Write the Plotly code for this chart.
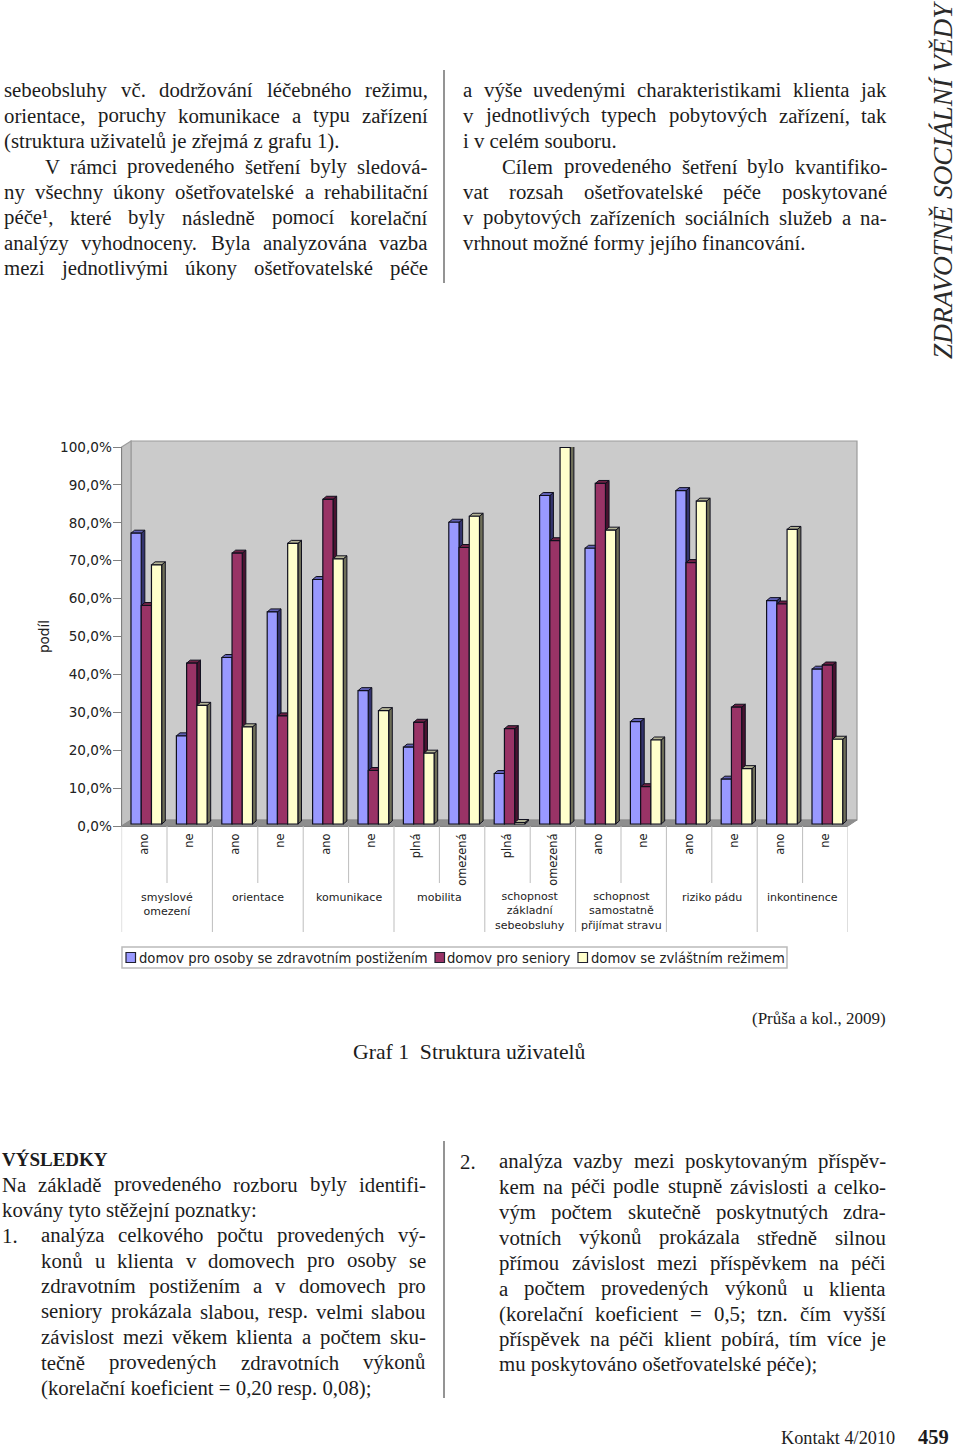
import plotly.graph_objects as go

# ---------- chart data ----------
sub_labels = ["ano", "ne", "ano", "ne", "ano", "ne", "plná", "omezená", "plná", "omezená",
              "ano", "ne", "ano", "ne", "ano", "ne"]
group_labels = ["smyslové<br>omezení", "orientace", "komunikace", "mobilita",
                "schopnost<br>základní<br>sebeobsluhy", "schopnost<br>samostatně<br>přijímat stravu",
                "riziko pádu", "inkontinence"]
series_names = ["domov pro osoby se zdravotním postižením", "domov pro seniory", "domov se zvláštním režimem"]
dozp = [77.2, 23.4, 44.2, 56.3, 64.9, 35.4, 20.4, 80.1, 13.4, 87.2, 73.2, 27.2, 88.5, 11.9, 59.3, 41.1]
seniors = [58.0, 42.7, 71.9, 28.7, 86.2, 14.2, 27.0, 73.4, 25.3, 75.2, 90.4, 9.9, 69.4, 31.0, 58.4, 42.2]
special = [68.8, 31.5, 25.8, 74.5, 70.4, 30.1, 18.8, 81.7, 0.4, 100, 78.0, 22.3, 85.7, 14.7, 78.2, 22.5]
y_ticks = [0, 10, 20, 30, 40, 50, 60, 70, 80, 90, 100]
y_tick_text = ["0,0%", "10,0%", "20,0%", "30,0%", "40,0%", "50,0%", "60,0%", "70,0%", "80,0%", "90,0%", "100,0%"]

# ---------- page text ----------
col_tl = ["sebeobsluhy vč. dodržování léčebného režimu,", "orientace, poruchy komunikace a typu zařízení",
          "(struktura uživatelů je zřejmá z grafu 1).", "V rámci provedeného šetření byly sledová-",
          "ny všechny úkony ošetřovatelské a rehabilitační", "péče¹, které byly následně pomocí korelační",
          "analýzy vyhodnoceny. Byla analyzována vazba", "mezi jednotlivými úkony ošetřovatelské péče"]
col_tr = ["a výše uvedenými charakteristikami klienta jak", "v jednotlivých typech pobytových zařízení, tak",
          "i v celém souboru.", "Cílem provedeného šetření bylo kvantifiko-",
          "vat rozsah ošetřovatelské péče poskytované", "v pobytových zařízeních sociálních služeb a na-",
          "vrhnout možné formy jejího financování."]
col_bl = ["Na základě provedeného rozboru byly identifi-", "kovány tyto stěžejní poznatky:"]
col_bl2 = ["analýza celkového počtu provedených vý-", "konů u klienta v domovech pro osoby se",
           "zdravotním postižením a v domovech pro", "seniory prokázala slabou, resp. velmi slabou",
           "závislost mezi věkem klienta a počtem sku-", "tečně provedených zdravotních výkonů",
           "(korelační koeficient = 0,20 resp. 0,08);"]
col_br = ["analýza vazby mezi poskytovaným příspěv-", "kem na péči podle stupně závislosti a celko-",
          "vým počtem skutečně poskytnutých zdra-", "votních výkonů prokázala středně silnou",
          "přímou závislost mezi příspěvkem na péči", "a počtem provedených výkonů u klienta",
          "(korelační koeficient = 0,5; tzn. čím vyšší", "příspěvek na péči klient pobírá, tím více je",
          "mu poskytováno ošetřovatelské péče);"]

W, H = 960, 1447
TXT = "#1c1c1c"
CH = "#222222"
SERIF = "Liberation Serif"
SANS = "DejaVu Sans"
BODY = 20.8

def px(x): return x / W
def py(y): return 1 - y / H

# y scale: 0 at 826 px, 100 at 447 px; x: 16 categories from 121.6 to 848
X0, X1, Y0, Y100 = 121.6, 848.0, 826.0, 447.0
UX = (X1 - X0) / 16
BAR_BASE, BAR_TOP = 824.0, 447.3     # bars stand on the receding floor, on a slightly shorter scale
UBAR = (BAR_BASE - BAR_TOP) / 100
SHIFT_X = 2.05 / UX      # bars sit slightly right of the category centre
BAR_Y_RANGE = [-(Y0 - BAR_BASE) / UBAR, 100 + (BAR_TOP - Y100) / UBAR]
DX = 3.6 / UX            # 3-D depth of a bar
DY = 3.0 / UBAR
GROUP = 0.676
SLOT = GROUP / 3

FRONT = ["#9999FF", "#993366", "#FFFFCC"]
SIDE = ["#33336E", "#4A1230", "#6E6E58"]
TOP = ["#6060B4", "#6E2044", "#B4B496"]
EDGE = "#10101E"

fig = go.Figure()
all_series = [dozp, seniors, special]
n = len(sub_labels)

# main axes carry the visible ticks
fig.add_trace(go.Scatter(x=[0, n], y=[0, 100], mode="none", showlegend=False, hoverinfo="skip"))

# side and top faces, derived from the same values as the bars
for c in range(n):
    for s, vals in enumerate(all_series):
        v = vals[c]
        l = c + 0.5 - GROUP / 2 + s * SLOT
        r = l + SLOT
        fig.add_trace(go.Scatter(x=[r, r + DX, r + DX, r, r], y=[v, v + DY, DY, 0, v], mode="lines",
                                 fill="toself", fillcolor=SIDE[s], line=dict(color=EDGE, width=1), cliponaxis=False,
                                 xaxis="x2", yaxis="y2", showlegend=False, hoverinfo="skip"))
        fig.add_trace(go.Scatter(x=[l, l + DX, r + DX, r, l], y=[v, v + DY, v + DY, v, v], mode="lines",
                                 fill="toself", fillcolor=TOP[s], line=dict(color=EDGE, width=1), cliponaxis=False,
                                 xaxis="x2", yaxis="y2", showlegend=False, hoverinfo="skip"))

# front faces
centers = [c + 0.5 for c in range(n)]
for s, vals in enumerate(all_series):
    fig.add_trace(go.Bar(x=centers, y=vals, name=series_names[s], cliponaxis=False,
                         marker=dict(color=FRONT[s], line=dict(color=EDGE, width=1.2)),
                         xaxis="x3", yaxis="y3", showlegend=False))

shapes = []
def poly(pts, fill, line="#8a8a8a", lw=1, layer="below"):
    d = "M " + " L ".join(f"{px(a):.5f},{py(b):.5f}" for a, b in pts) + " Z"
    shapes.append(dict(type="path", path=d, xref="paper", yref="paper", fillcolor=fill,
                       line=dict(color=line, width=lw), layer=layer))

# chart walls and floor
poly([(131, 441), (857, 441), (857, 820), (131, 820)], "#CBCBCB", line="#9C9C9C", lw=1.2)
poly([(121.6, 447), (131, 441), (131, 820), (121.6, 826)], "#C2C2C2", line="#9C9C9C", lw=1.2)
poly([(121.6, 826), (131, 820), (857, 820), (848, 826)], "#8E8E8E")

# category separators
for i in range(n + 1):
    bottom = 932 if i % 2 == 0 else 883
    shapes.append(dict(type="line", xref="x", yref="paper", x0=i, x1=i, y0=py(826), y1=py(bottom),
                       line=dict(color="#BDBDBD", width=1)))

# column rules
for y_a, y_b in [(70, 283), (1141, 1398)]:
    shapes.append(dict(type="line", xref="paper", yref="paper", x0=px(444), x1=px(444), y0=py(y_a), y1=py(y_b),
                       line=dict(color="#707070", width=1.5)))

# legend frame and swatches
poly([(122, 947), (787, 947), (787, 968), (122, 968)], "#FFFFFF", line="#BBBBBB", lw=1.5, layer="above")
legend_sw = [126, 435, 578]
legend_tx = [139, 447, 591]
for s in range(3):
    a = legend_sw[s]
    poly([(a, 952.5), (a + 9.5, 952.5), (a + 9.5, 962.5), (a, 962.5)], FRONT[s], line="#202030", lw=1.2, layer="above")

annotations = []
def text(x, y, s, size, font=SERIF, color=TXT, anchor="left", angle=0, bold=False, italic=False, xref="paper"):
    if bold:
        s = f"<b>{s}</b>"
    if italic:
        s = f"<i>{s}</i>"
    annotations.append(dict(x=px(x) if xref == "paper" else x, y=py(y), xref=xref, yref="paper", text=s, showarrow=False,
                            xanchor=anchor, yanchor="middle", textangle=angle, borderpad=0, borderwidth=0,
                            font=dict(family=font, size=size, color=color), align="center"))

for s in range(3):
    text(legend_tx[s], 958, series_names[s], 13.2, font=SANS, color=CH)

for g, lab in enumerate(group_labels):
    nl = lab.count("<br>") + 1
    text(g * 2 + 1, 897.5 + (nl - 1) * 6.8, lab, 11, font=SANS, color=CH, anchor="center", xref="x")

# Times-metric widths, used to justify lines
_w = {}
for chars, val in [("aceěéázžčc", .444), ("bdghnopquvxyýůúňďk0123456789", .5), ("frř", .333), ("ijlíť", .278),
                   ("m", .778), ("sš", .389), ("w", .722),
                   (".,;", .25), (":", .278), ("()-", .333), ("=", .564), ("¹", .3), ("t", .278),
                   ("ACDGHKNOUVXYÝČĎ", .722), ("BRE", .64), ("FPSŠ", .556), ("LTZ", .611), ("I", .333), ("J", .389), ("M", .889), ("W", .944)]:
    for ch in chars:
        _w[ch] = val

def width(w, size):
    return sum(_w.get(ch, .5) for ch in w) * size

def line(x0, x1, baseline, s, size=BODY, justify=True):
    yc = baseline - 0.29 * size
    if not justify:
        text(x0, yc, s, size)
        return
    words = s.split(" ")
    total = sum(width(w, size) for w in words)
    gap = (x1 - x0 - total) / (len(words) - 1)
    x = x0
    for i, w in enumerate(words):
        if i == len(words) - 1:
            text(x1, yc, w, size, anchor="right")
        else:
            text(x, yc, w, size)
        x += width(w, size) + gap

def block(x0, x1, base, lines, last_free=(), indent=None, dy=25.43):
    indent = indent or {}
    for i, s in enumerate(lines):
        line(x0 + indent.get(i, 0), x1, base + i * dy, s, justify=i not in last_free)

block(4, 428, 96, col_tl, last_free={2}, indent={3: 41})
block(463, 887, 96, col_tr, last_free={2, 6}, indent={3: 39})
text(2, 1159, "VÝSLEDKY", 19, bold=True)
block(2, 426, 1190.5, col_bl, last_free={1})
text(2, 1235, "1.", BODY)
block(41, 426, 1241, col_bl2, last_free={6})
text(460, 1161, "2.", BODY)
block(499, 886, 1167, col_br, last_free={8})

text(469.5, 1052, "Graf 1&nbsp;&nbsp;Struktura uživatelů", 21.7, anchor="center")
text(886, 1018, "(Průša a kol., 2009)", 17, anchor="right")
text(895, 1438, "Kontakt 4/2010", 18.3, anchor="right")
text(949, 1437, "459", 20.5, anchor="right", bold=True)
text(943, 180, "ZDRAVOTNĚ SOCIÁLNÍ VĚDY", 27.4, anchor="center", angle=-90, italic=True, color="#2a2a2a")

hidden = dict(visible=False, fixedrange=True, automargin=False)
fig.update_layout(
    width=W, height=H, autosize=False, margin=dict(l=0, r=0, t=0, b=0, autoexpand=False),
    paper_bgcolor="white", plot_bgcolor="rgba(0,0,0,0)", showlegend=False,
    barmode="group", bargap=1 - GROUP, bargroupgap=0,
    xaxis=dict(domain=[px(X0), px(X1)], range=[0, n], tickmode="array", tickvals=centers, ticktext=sub_labels,
               tickangle=-90, ticks="", showgrid=False, zeroline=False, showline=True, linecolor="#808080", linewidth=1,
               tickfont=dict(family=SANS, size=11.4, color=CH), fixedrange=True, automargin=False, ticklabelstandoff=2),
    yaxis=dict(domain=[py(Y0), py(Y100)], range=[0, 100], tickmode="array", tickvals=y_ticks, ticktext=y_tick_text,
               ticks="outside", ticklen=8, tickcolor="#808080", tickwidth=1, showgrid=False, zeroline=False,
               showline=True, linecolor="#808080", linewidth=1, tickfont=dict(family=SANS, size=13.6, color=CH),
               title=dict(text="podíl", font=dict(family=SANS, size=13.6, color=CH), standoff=7), fixedrange=True,
               automargin=False, ticklabelstandoff=-2),
    xaxis2=dict(overlaying="x", range=[-SHIFT_X, n - SHIFT_X], **hidden),
    yaxis2=dict(overlaying="y", range=BAR_Y_RANGE, **hidden),
    xaxis3=dict(overlaying="x", range=[-SHIFT_X, n - SHIFT_X], **hidden),
    yaxis3=dict(overlaying="y", range=BAR_Y_RANGE, **hidden),
    shapes=shapes, annotations=annotations,
)
place = ("document.documentElement.style.margin='0';document.body.style.margin='0';"
         "var g=document.querySelector('.plotly-graph-div');"
         "g.style.position='absolute';g.style.left='0';g.style.top='0';")
fig.write_html("out.html", config={"displayModeBar": False, "staticPlot": True}, post_script=place)
